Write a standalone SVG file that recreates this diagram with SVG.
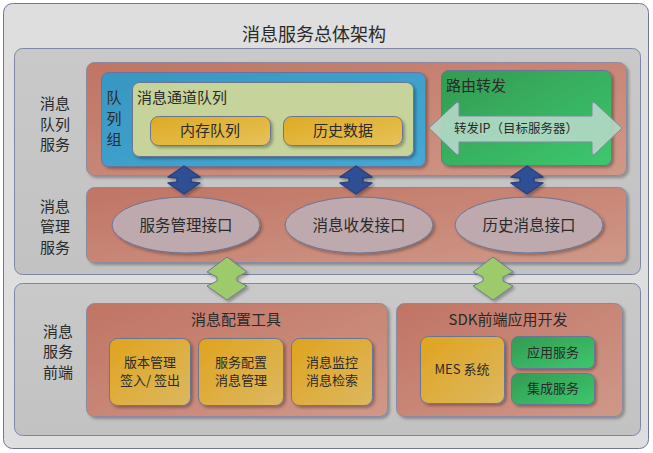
<svg xmlns="http://www.w3.org/2000/svg" width="653" height="453" viewBox="0 0 653 453">
<defs>
<linearGradient id="gRed" x1="0" y1="0" x2="1" y2="1"><stop offset="0" stop-color="#c07464"/><stop offset="1" stop-color="#d09888"/></linearGradient>
<linearGradient id="gGreen" x1="0" y1="0" x2="1" y2="1"><stop offset="0" stop-color="#349a52"/><stop offset="1" stop-color="#3cc86e"/></linearGradient>
<linearGradient id="gYel" x1="0" y1="0" x2="1" y2="1"><stop offset="0" stop-color="#deaa22"/><stop offset="1" stop-color="#e6c25a"/></linearGradient>
<linearGradient id="gOr" x1="0" y1="0" x2="1" y2="1"><stop offset="0" stop-color="#e0a31e"/><stop offset="1" stop-color="#dcb860"/></linearGradient>
<linearGradient id="gBlue" x1="0" y1="0" x2="1" y2="1"><stop offset="0" stop-color="#3896c2"/><stop offset="1" stop-color="#45a8d4"/></linearGradient>
<linearGradient id="gPanel" x1="0" y1="0" x2="0" y2="1"><stop offset="0" stop-color="#c9c9c9"/><stop offset="1" stop-color="#c2c2c2"/></linearGradient>
<filter id="sh" x="-10%" y="-10%" width="120%" height="130%"><feDropShadow dx="2" dy="2" stdDeviation="1.5" flood-color="#000" flood-opacity="0.3"/></filter>
</defs>
<style>
.t{font-family:"Noto Sans CJK SC","Noto Sans",sans-serif;fill:#2a2a2a;font-weight:normal;}
.bd{stroke:#6a7496;stroke-width:1;}
.panel{fill:url(#gPanel);stroke:#7e86a6;stroke-width:1;}
.red{fill:url(#gRed);stroke:#8a8aa0;stroke-width:1;}
.ell{fill:#bda9ae;stroke:#6a7496;stroke-width:1;}
.arrB{fill:#2f4f94;stroke:#2a4080;stroke-width:1.5;stroke-linejoin:round;}
.arrG{fill:#9dcb6c;stroke:#6a7a8a;stroke-width:1;stroke-linejoin:round;}
</style>
<rect x="3.500" y="3.500" width="645" height="445" rx="9" fill="#dedede" stroke="#7078a0"/>
<text class="t" x="314" y="41" font-size="18" text-anchor="middle">消息服务总体架构</text>

<g id="panel-top">
<rect class="panel" x="14.500" y="48.500" width="626" height="226" rx="8"/>
<text class="t" font-size="15" text-anchor="middle"><tspan x="55" y="109">消息</tspan><tspan x="55" y="130">队列</tspan><tspan x="55" y="150">服务</tspan></text>
<text class="t" font-size="15" text-anchor="middle"><tspan x="55" y="212">消息</tspan><tspan x="55" y="232">管理</tspan><tspan x="55" y="253">服务</tspan></text>
</g>

<g id="panel-bottom">
<rect class="panel" x="14.500" y="283.500" width="626" height="152" rx="8"/>
<text class="t" font-size="15" text-anchor="middle"><tspan x="58" y="337">消息</tspan><tspan x="58" y="357">服务</tspan><tspan x="58" y="378">前端</tspan></text>
</g>

<g id="row-queue">
<rect class="red" x="86.500" y="62.500" width="540" height="113" rx="8" filter="url(#sh)"/>
</g>

<g id="queue-group">
<rect x="101.500" y="72.500" width="324" height="94" rx="7" fill="url(#gBlue)" class="bd" filter="url(#sh)"/>
<text class="t" font-size="15" text-anchor="middle"><tspan x="114" y="103">队</tspan><tspan x="114" y="124">列</tspan><tspan x="114" y="145">组</tspan></text>
</g>

<g id="channel-queue">
<rect x="132.500" y="82.500" width="281" height="74" rx="7" fill="#c6d49c" class="bd" filter="url(#sh)"/>
<text class="t" x="137" y="103" font-size="15">消息通道队列</text>
</g>

<g id="mem-queue">
<rect x="150.500" y="116.500" width="120" height="29" rx="8" fill="url(#gYel)" class="bd" filter="url(#sh)"/>
<text class="t" x="210" y="136" font-size="15" text-anchor="middle">内存队列</text>
</g>

<g id="history-data">
<rect x="283.500" y="116.500" width="119" height="29" rx="8" fill="url(#gYel)" class="bd" filter="url(#sh)"/>
<text class="t" x="343" y="136" font-size="15" text-anchor="middle">历史数据</text>
</g>

<g id="routing">
<rect x="441.500" y="70.500" width="170" height="95" rx="7" fill="url(#gGreen)" class="bd" filter="url(#sh)"/>
<text class="t" x="446" y="91" font-size="15">路由转发</text>
<path d="M429,128 L456,103 Q459,101 459,105 L459,116 L592,116 L592,105 Q592,101 595,103 L622,128 L595,154 Q592,156 592,152 L592,142 L459,142 L459,152 Q459,156 456,154 Z" fill="#b4d8c6" fill-opacity="0.9" stroke="#7a8aa0" stroke-linejoin="round"/>
<text class="t" x="516" y="133" font-size="12.5" text-anchor="middle">转发IP（目标服务器）</text>
</g>

<g id="row-mgmt">
<rect class="red" x="86.500" y="187.500" width="540" height="75" rx="8" filter="url(#sh)"/>
</g>

<g id="svc-mgmt-if">
<ellipse class="ell" cx="186" cy="225" rx="74" ry="28" filter="url(#sh)"/>
<text class="t" x="186" y="231" font-size="15.5" text-anchor="middle">服务管理接口</text>
</g>
<g id="msg-io-if">
<ellipse class="ell" cx="359" cy="225" rx="74" ry="28" filter="url(#sh)"/>
<text class="t" x="359" y="231" font-size="15.5" text-anchor="middle">消息收发接口</text>
</g>
<g id="hist-msg-if">
<ellipse class="ell" cx="529" cy="225" rx="74" ry="28" filter="url(#sh)"/>
<text class="t" x="529" y="231" font-size="15.5" text-anchor="middle">历史消息接口</text>
</g>

<g id="config-tools">
<rect class="red" x="86.500" y="303.500" width="301" height="113" rx="8" filter="url(#sh)"/>
<text class="t" x="236" y="325" font-size="15" text-anchor="middle">消息配置工具</text>
</g>
<g id="version-mgmt">
<rect x="109.500" y="338.500" width="81" height="67" rx="8" fill="url(#gOr)" class="bd" filter="url(#sh)"/>
<text class="t" font-size="13" text-anchor="middle"><tspan x="150" y="367">版本管理</tspan><tspan x="150" y="385">签入/ 签出</tspan></text>
</g>
<g id="svc-config">
<rect x="198.500" y="338.500" width="85" height="67" rx="8" fill="url(#gOr)" class="bd" filter="url(#sh)"/>
<text class="t" font-size="13" text-anchor="middle"><tspan x="241" y="367">服务配置</tspan><tspan x="241" y="385">消息管理</tspan></text>
</g>
<g id="msg-monitor">
<rect x="291.500" y="338.500" width="81" height="67" rx="8" fill="url(#gOr)" class="bd" filter="url(#sh)"/>
<text class="t" font-size="13" text-anchor="middle"><tspan x="332" y="367">消息监控</tspan><tspan x="332" y="385">消息检索</tspan></text>
</g>

<g id="sdk">
<rect class="red" x="396.500" y="303.500" width="226" height="113" rx="8" filter="url(#sh)"/>
<text class="t" x="508" y="325" font-size="15" text-anchor="middle">SDK前端应用开发</text>
</g>
<g id="mes">
<rect x="420.500" y="336.500" width="84" height="67" rx="8" fill="url(#gOr)" class="bd" filter="url(#sh)"/>
<text class="t" x="462" y="374" font-size="13" text-anchor="middle">MES 系统</text>
</g>
<g id="app-svc">
<rect x="511.500" y="336.500" width="83" height="32" rx="7" fill="url(#gGreen)" class="bd" filter="url(#sh)"/>
<text class="t" x="553" y="357" font-size="13" text-anchor="middle">应用服务</text>
</g>
<g id="int-svc">
<rect x="511.500" y="373.500" width="83" height="31" rx="7" fill="url(#gGreen)" class="bd" filter="url(#sh)"/>
<text class="t" x="553" y="393" font-size="13" text-anchor="middle">集成服务</text>
</g>

<g id="connectors" filter="url(#sh)">
<path class="arrB" d="M184,166 L200,177 L191,178 L191,182 L200,183 L184,194 L168,183 L177,182 L177,178 L168,177 Z"/>
<path class="arrB" d="M356,166 L372,177 L363,178 L363,182 L372,183 L356,194 L340,183 L349,182 L349,178 L340,177 Z"/>
<path class="arrB" d="M527,166 L543,177 L534,178 L534,182 L543,183 L527,194 L511,183 L520,182 L520,178 L511,177 Z"/>
<path class="arrG" d="M227,257 L247,272 L237,277 L237,281 L247,286 L227,300 L207,286 L217,281 L217,277 L207,272 Z"/>
<path class="arrG" d="M493,257 L513,272 L503,277 L503,281 L513,286 L493,300 L473,286 L483,281 L483,277 L473,272 Z"/>
</g>
</svg>
